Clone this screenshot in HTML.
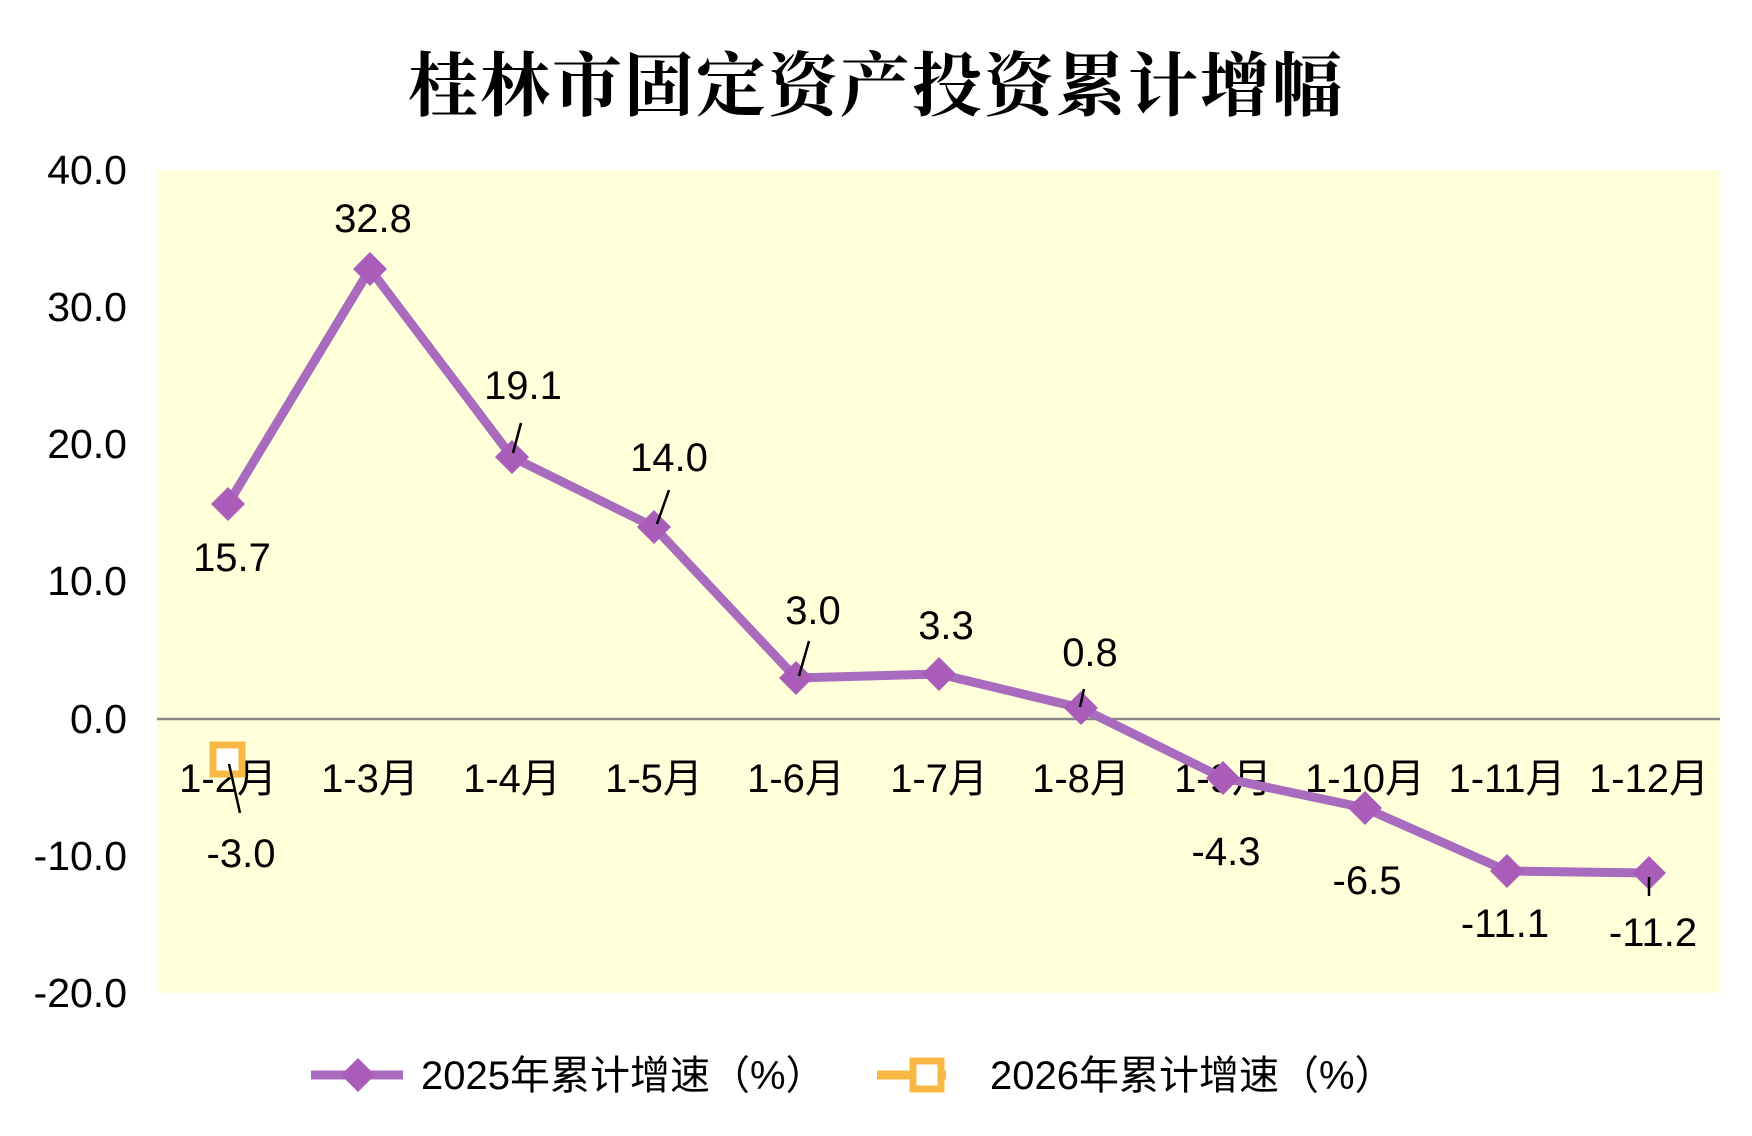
<!DOCTYPE html>
<html><head><meta charset="utf-8"><style>
html,body{margin:0;padding:0;background:#fff}
svg{display:block}
text{font-family:"Liberation Sans","Noto Sans CJK SC",sans-serif;fill:#000}
</style></head><body>
<svg width="1752" height="1136" viewBox="0 0 1752 1136" xmlns="http://www.w3.org/2000/svg">
<text x="876" y="110" text-anchor="middle" style="font-family:'Liberation Serif','Noto Serif CJK SC',serif;font-weight:bold;font-size:70px;letter-spacing:2px">桂林市固定资产投资累计增幅</text>
<rect x="157" y="170" width="1563" height="823" fill="#FFFFDA"/>
<line x1="157" y1="719" x2="1720" y2="719" stroke="#888" stroke-width="2.5"/>
<g font-size="41" text-anchor="end">
<text x="127" y="184">40.0</text>
<text x="127" y="321">30.0</text>
<text x="127" y="458">20.0</text>
<text x="127" y="595">10.0</text>
<text x="127" y="733">0.0</text>
<text x="127" y="870">-10.0</text>
<text x="127" y="1007">-20.0</text>
</g>
<g font-size="40" text-anchor="middle">
<text x="228" y="792">1-2月</text>
<text x="370" y="792">1-3月</text>
<text x="512" y="792">1-4月</text>
<text x="654" y="792">1-5月</text>
<text x="796" y="792">1-6月</text>
<text x="939" y="792">1-7月</text>
<text x="1081" y="792">1-8月</text>
<text x="1223" y="792">1-9月</text>
<text x="1365" y="792">1-10月</text>
<text x="1507" y="792">1-11月</text>
<text x="1649" y="792">1-12月</text>
</g>
<polyline fill="none" stroke="#A96BBD" stroke-width="9" stroke-linejoin="round"
points="228,504 370,269 512,457 654,527 796,678 939,674 1081,708 1223,778 1365,808 1507,871 1649,873"/>
<g fill="#A95DB9">
<path d="M228,487 l17,17 -17,17 -17,-17z"/>
<path d="M370,252 l17,17 -17,17 -17,-17z"/>
<path d="M512,440 l17,17 -17,17 -17,-17z"/>
<path d="M654,510 l17,17 -17,17 -17,-17z"/>
<path d="M796,661 l17,17 -17,17 -17,-17z"/>
<path d="M939,657 l17,17 -17,17 -17,-17z"/>
<path d="M1081,691 l17,17 -17,17 -17,-17z"/>
<path d="M1223,761 l17,17 -17,17 -17,-17z"/>
<path d="M1365,791 l17,17 -17,17 -17,-17z"/>
<path d="M1507,854 l17,17 -17,17 -17,-17z"/>
<path d="M1649,856 l17,17 -17,17 -17,-17z"/>
</g>
<rect x="213" y="745" width="29" height="29" fill="#fff" stroke="#F7B944" stroke-width="7"/>
<g stroke="#000" stroke-width="2.5">
<line x1="521" y1="423" x2="513" y2="453"/>
<line x1="669" y1="490" x2="657" y2="524"/>
<line x1="809" y1="641" x2="799" y2="676"/>
<line x1="1084" y1="689" x2="1080" y2="707"/>
<line x1="1649" y1="877" x2="1649" y2="896"/>
<line x1="229" y1="764" x2="240" y2="813"/>
</g>
<g font-size="40" text-anchor="middle">
<text x="232" y="571">15.7</text>
<text x="373" y="232">32.8</text>
<text x="523" y="399">19.1</text>
<text x="669" y="471">14.0</text>
<text x="813" y="624">3.0</text>
<text x="946" y="639">3.3</text>
<text x="1090" y="666">0.8</text>
<text x="1226" y="865">-4.3</text>
<text x="1367" y="894">-6.5</text>
<text x="1505" y="937">-11.1</text>
<text x="1653" y="946">-11.2</text>
<text x="241" y="867">-3.0</text>
</g>
<line x1="311" y1="1075" x2="403" y2="1075" stroke="#A96BBD" stroke-width="9"/>
<path d="M358,1058 l17,17 -17,17 -17,-17z" fill="#A95DB9"/>
<text x="421" y="1089" font-size="40">2025年累计增速（%）</text>
<line x1="877" y1="1075" x2="946" y2="1075" stroke="#F7B944" stroke-width="9"/>
<rect x="913" y="1061" width="28" height="28" fill="#fff" stroke="#F7B944" stroke-width="7"/>
<text x="990" y="1089" font-size="40">2026年累计增速（%）</text>
</svg>
</body></html>
